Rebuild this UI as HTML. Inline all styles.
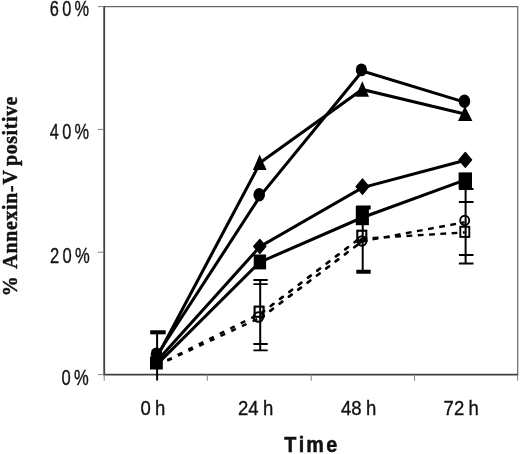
<!DOCTYPE html>
<html>
<head>
<meta charset="utf-8">
<title>Annexin-V positive over time</title>
<style>
html,body{margin:0;padding:0;background:#fff;}
svg{display:block;}
text{font-family:"Liberation Sans",sans-serif;fill:#111;}
.ser{font-family:"Liberation Serif",serif;font-weight:bold;}
.ln{fill:none;stroke:#000;stroke-width:3.05;stroke-linejoin:miter;}
.dl{fill:none;stroke:#000;stroke-width:2.4;stroke-dasharray:5.8 5.7;}
.eb{stroke:#000;stroke-width:2;fill:none;}
.cap{stroke:#000;stroke-width:1.8;fill:none;}
.capb{stroke:#000;stroke-width:4.1;fill:none;}
.ax{stroke:#6e6e6e;stroke-width:1.3;fill:none;}
.tk{stroke:#777;stroke-width:0.9;fill:none;}
.om{fill:none;stroke:#000;stroke-width:1.9;}
</style>
</head>
<body>
<svg width="520" height="454" viewBox="0 0 520 454">
<rect width="520" height="454" fill="#fff"/>
<!-- plot frame -->
<path d="M104.2 6.6H517.7V374.5" fill="none" stroke="#686868" stroke-width="1.2"/>
<path d="M104.2 6V374.7H518.3" fill="none" stroke="#404040" stroke-width="1.8"/>
<!-- y ticks -->
<path class="tk" d="M97.8 6.6H104.2M97.8 129.4H104.2M97.8 252.2H104.2M97.8 374.6H104.2"/>
<!-- x ticks -->
<path class="tk" d="M104.2 374.4V380.8M207.3 374.4V380.8M311.2 374.4V380.8M414.5 374.4V380.8M517.6 374.4V380.8"/>

<!-- y labels -->
<g font-size="21.8" letter-spacing="4.4" stroke="#111" stroke-width="0.35">
<text transform="translate(49.8 16.3) scale(0.75 1)">60%</text>
<text transform="translate(49.8 138.7) scale(0.75 1)">40%</text>
<text transform="translate(50 262.6) scale(0.76 1)">20%</text>
<text transform="translate(61.5 384.7) scale(0.76 1)">0%</text>
</g>

<!-- x labels -->
<g font-size="20.6" stroke="#111" stroke-width="0.35" word-spacing="-0.9">
<text transform="translate(140.4 414.8) scale(0.9 1)">0 h</text>
<text transform="translate(238 414.8) scale(0.9 1)">24 h</text>
<text transform="translate(341 414.8) scale(0.9 1)">48 h</text>
<text transform="translate(443.6 414.8) scale(0.9 1)">72 h</text>
</g>
<text transform="translate(284.33 452.1) scale(0.9 1)" font-size="22" font-weight="bold" stroke="#111" stroke-width="0.5" x="0 16.16 24.35 46.5">Time</text>

<!-- y title -->
<text class="ser" transform="translate(16.9 296.2) rotate(-90) scale(0.985 1)" font-size="20.2" letter-spacing="0.5" word-spacing="1" stroke="#111" stroke-width="0.45" dx="0 0 1.8 .22 .22 .22 .22 .22 .22 .22 .22 0 -2.4 .1 .1 .1 .1 .1 .1 .1">% Annexin-V positive</text>

<!-- error bars -->
<path class="eb" d="M157.1 332V380.5"/>
<path class="capb" d="M150.2 332.3H165.7"/>
<path class="eb" d="M260.2 280V350.4"/>
<path class="cap" d="M253.4 280H267.7M253.4 284.2H267.7M253.4 344H267.7M253.4 350.4H267.7"/>
<path class="eb" d="M362.7 207V271.7"/>
<path class="capb" d="M356.3 271.7H370.7M356.3 207.5H370.7"/>
<path class="eb" d="M465.6 186V263.2"/>
<path class="cap" d="M458.9 189H473.5M458.9 202H473.5M458.9 255H473.5M458.9 263.5H473.5"/>

<!-- dashed series -->
<g class="dl">
<path d="M157 365.3L259.3 314.1" stroke-dasharray="5 6.75" stroke-dashoffset="0.35"/>
<path d="M157 365.5L258.8 318.3" stroke-dasharray="5 6.75" stroke-dashoffset="0.35"/>
<path d="M259.3 314.7L362 236.6" stroke-dasharray="3.4 8.3" stroke-dashoffset="-2.7" stroke-linecap="round" stroke-width="2.7"/>
<path d="M258.8 319.5L362 241.4" stroke-dasharray="3.4 8.3" stroke-dashoffset="-2.7" stroke-linecap="round" stroke-width="2.7"/>
<path d="M362 238.7L464.8 232.4" stroke-dasharray="5.8 5.5" stroke-dashoffset="0.6"/>
<path d="M362 241.4L464.6 222.3" stroke-dasharray="5.8 5.5" stroke-dashoffset="0.6"/>
</g>

<!-- solid series -->
<path class="ln" d="M156.5 356L260.3 195.9L362.4 71.1L465.4 102.4"/>
<path class="ln" d="M156.5 358L260.3 162.6L362.2 89.5L464.8 114"/>
<path class="ln" d="M156.5 361.5L259.8 246.8L362.4 187.6L465.3 160.2"/>
<path class="ln" d="M156.5 364.8L259.8 262.2L362.4 217.5L465.3 179.9"/>

<!-- markers: filled circle -->
<ellipse cx="156.5" cy="354" rx="5.8" ry="6.6"/>
<ellipse cx="259.2" cy="194.7" rx="5.8" ry="6.7"/>
<ellipse cx="361.4" cy="69.9" rx="5.6" ry="6.4"/>
<ellipse cx="464.4" cy="101.2" rx="5.8" ry="6.7"/>
<!-- triangle -->
<path d="M259.6 154.5L266.6 170H252.9Z"/>
<path d="M362.3 81.2L369 96.7H355.4Z"/>
<path d="M464.9 106L472.4 120.9H458Z"/>
<!-- diamond -->
<g stroke="#000" stroke-width="1.2" stroke-linejoin="round">
<path d="M259.8 239.3L266 246.3L259.8 253.5L253.6 246.3Z"/>
<path d="M362.5 179L368.9 186.7L362.5 194.3L356 186.7Z"/>
<path d="M465.3 152.4L471.7 159.9L465.3 167.4L458.9 159.9Z"/>
</g>

<!-- filled square -->
<rect x="150" y="356.5" width="12.8" height="13"/>
<rect x="253.7" y="254.5" width="12.4" height="14.9"/>
<rect x="355.8" y="206" width="13.1" height="19.2"/>
<rect x="458.6" y="172.4" width="13.4" height="16"/>

<!-- line pieces crossing the open markers -->
<path d="M356.8 242.6L362 238.7L367.2 238.4M356.8 245.6L362 241.2L367.2 240.2" fill="none" stroke="#000" stroke-width="2.2"/>
<!-- open markers -->
<rect class="om" x="254.6" y="306.6" width="9" height="10.2" style="stroke-width:2.1"/>
<ellipse class="om" cx="258.4" cy="317" rx="4.7" ry="4.8" style="stroke-width:2.1"/>
<rect class="om" x="357.3" y="230.7" width="9" height="10.4" style="stroke-width:2.1"/>
<ellipse class="om" cx="361.9" cy="241" rx="4.5" ry="4.7" style="stroke-width:2.1"/>
<rect class="om" x="460.3" y="226.8" width="9" height="10.1"/>
<ellipse class="om" cx="464.7" cy="220.4" rx="4.5" ry="4.7"/>
</svg>
</body>
</html>
